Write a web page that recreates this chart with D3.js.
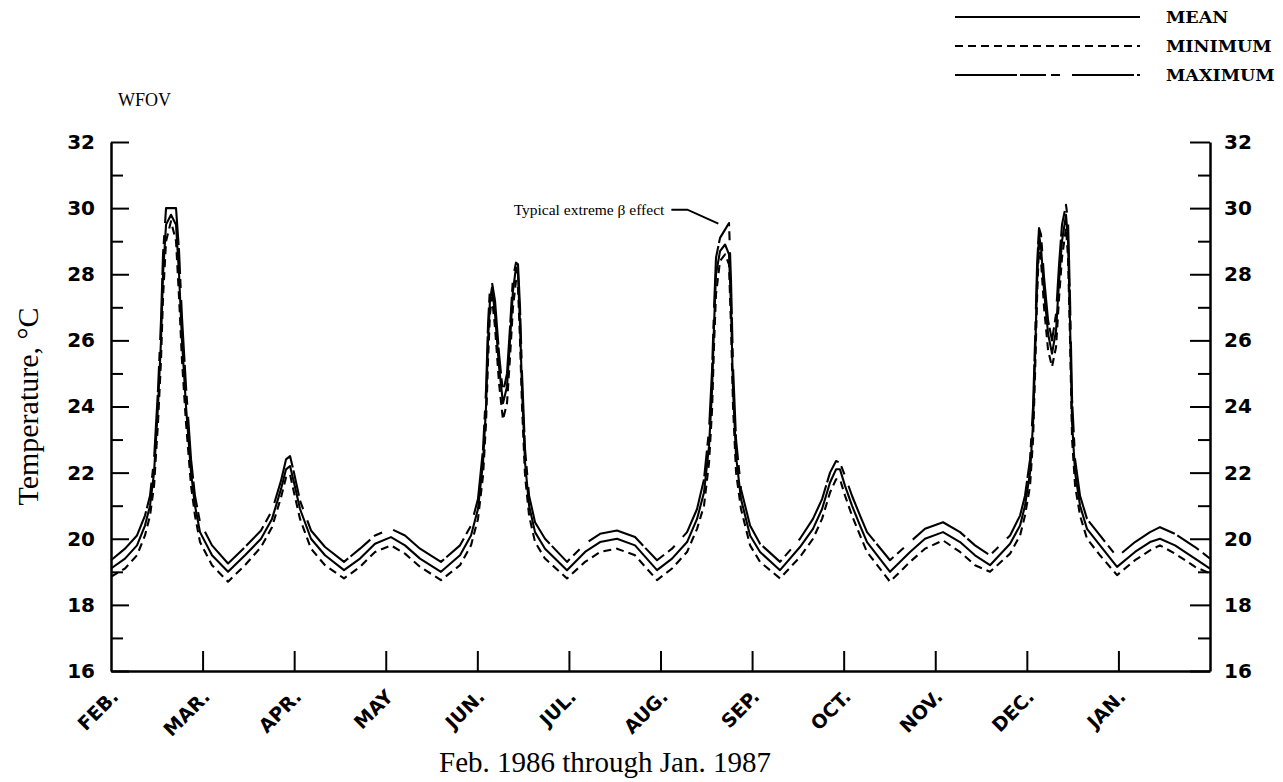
<!DOCTYPE html>
<html><head><meta charset="utf-8">
<script src="https://cdn.jsdelivr.net/npm/d3@7"></script>
<style>body{margin:0;background:#fff}</style>
</head><body>
<svg id="chart" width="1283" height="782"></svg>
<script>
// ---------- data ----------
const monthLabels = ["FEB.","MAR.","APR.","MAY","JUN.","JUL.","AUG.","SEP.","OCT.","NOV.","DEC.","JAN."];
const monthTicks = [0,1,2,3,4,5,6,7,8,9,10,11];
const yMajorTicks = [16,18,20,22,24,26,28,30,32];
const yMinorTicks = [17,19,21,23,25,27,29,31];
const seriesNames = ["MEAN","MINIMUM","MAXIMUM"];

// position in months since 1 Feb 1986
const monthPos = [0.000,0.153,0.284,0.371,0.426,0.470,0.513,0.546,0.568,0.601,0.655,0.710,0.743,0.775,0.819,0.874,0.917,0.972,1.103,1.278,
1.463,1.638,1.758,1.856,1.911,1.955,1.998,2.064,2.184,2.337,2.544,
2.719,2.883,3.057,3.210,3.374,3.603,
3.811,3.931,4.007,4.062,4.095,4.117,4.138,4.160,4.193,4.237,4.280,4.324,4.357,4.389,4.422,4.444,4.466,4.488,4.521,4.565,4.630,4.739,4.979,
5.176,5.340,5.525,5.722,5.962,
6.126,6.290,6.399,6.475,6.530,6.563,6.585,6.606,6.650,6.705,6.748,6.770,6.792,6.825,6.879,6.978,7.087,7.305,
7.523,7.665,7.764,7.851,7.917,7.960,8.015,8.091,8.179,8.255,8.506,
8.725,8.888,9.085,9.271,9.434,9.598,
9.817,9.926,9.980,10.035,10.068,10.090,10.112,10.133,10.155,10.188,10.232,10.275,10.319,10.352,10.384,10.428,10.450,10.472,10.494,10.527,10.581,10.657,10.799,10.985,
11.181,11.345,11.454,11.618,11.837,12.000];

const meanT = [19.1,19.4,19.8,20.4,21.0,22.0,24.0,26.0,28.0,29.5,29.8,29.5,28.0,26.0,24.0,22.0,21.0,20.2,19.5,19.0,
19.5,20.0,20.6,21.5,22.1,22.2,21.7,20.9,20.0,19.5,19.05,
19.4,19.85,20.05,19.8,19.4,19.0,
19.5,20.1,20.9,22.3,24.0,26.0,27.2,27.6,26.8,25.2,24.1,24.6,26.0,27.5,28.2,28.0,26.5,24.5,22.3,21.0,20.2,19.7,19.05,
19.6,19.9,20.0,19.8,19.05,
19.4,19.9,20.6,21.4,22.8,24.5,26.5,28.0,28.7,28.9,28.6,27.0,24.5,22.5,21.2,20.1,19.6,19.05,
19.75,20.3,20.9,21.7,22.1,22.1,21.6,21.0,20.4,19.9,19.0,
19.6,20.0,20.2,19.9,19.5,19.2,
19.85,20.4,21.0,22.0,23.5,25.5,27.8,29.2,28.8,27.5,26.2,25.6,26.3,27.8,29.0,29.8,29.0,26.5,23.5,22.0,21.0,20.3,19.8,19.15,
19.6,19.9,20.0,19.8,19.4,19.1];

const maxT = [19.35,19.7,20.1,20.7,21.3,22.4,24.5,26.6,28.6,30.0,30.0,30.0,28.7,26.7,24.6,22.4,21.3,20.5,19.8,19.25,
19.75,20.25,20.85,21.75,22.4,22.5,22.0,21.15,20.25,19.75,19.3,
19.7,20.1,20.3,20.1,19.7,19.3,
19.8,20.4,21.2,22.7,24.5,26.5,27.6,27.75,27.2,25.6,24.4,25.0,26.4,27.9,28.35,28.3,27.0,25.0,22.7,21.3,20.5,20.0,19.3,
19.85,20.15,20.25,20.05,19.35,
19.7,20.2,20.9,21.8,23.3,25.1,27.0,28.5,29.1,29.35,29.55,27.8,25.2,23.0,21.5,20.4,19.85,19.3,
20.0,20.6,21.2,22.0,22.35,22.3,21.9,21.3,20.7,20.2,19.35,
19.9,20.3,20.5,20.2,19.8,19.5,
20.1,20.7,21.3,22.4,24.0,26.0,28.3,29.4,29.2,27.9,26.6,26.0,26.8,28.3,29.5,30.1,29.6,27.2,24.2,22.4,21.3,20.6,20.1,19.45,
19.9,20.2,20.35,20.15,19.75,19.4];

const minT = [18.85,19.1,19.5,20.1,20.7,21.6,23.5,25.4,27.3,29.0,29.6,29.0,27.3,25.4,23.5,21.6,20.7,19.9,19.2,18.7,
19.2,19.75,20.35,21.25,21.85,21.95,21.4,20.6,19.7,19.2,18.8,
19.15,19.6,19.8,19.55,19.15,18.75,
19.2,19.8,20.6,21.9,23.5,25.4,26.8,27.3,26.4,24.7,23.6,24.1,25.5,27.0,27.8,27.6,26.0,24.0,21.9,20.7,19.9,19.4,18.8,
19.3,19.6,19.7,19.5,18.75,
19.1,19.6,20.3,21.0,22.3,23.9,25.9,27.4,28.4,28.6,28.3,26.4,24.0,22.0,20.9,19.8,19.3,18.8,
19.45,20.0,20.6,21.4,21.8,21.8,21.3,20.7,20.1,19.6,18.7,
19.3,19.7,19.95,19.6,19.2,19.0,
19.55,20.1,20.7,21.6,23.0,25.0,27.3,28.9,28.4,27.0,25.7,25.2,25.8,27.3,28.5,29.4,28.5,26.0,23.0,21.6,20.7,20.0,19.5,18.9,
19.35,19.65,19.8,19.55,19.15,18.95];

const annotation = {text: "Typical extreme \u03B2 effect", month: 6.73, value: 29.5};

// ---------- layout ----------
const W = 1283, H = 782;
const margin = {left: 111, right: 73, top: 142, bottom: 111};
const svg = d3.select("#chart");
const x = d3.scaleLinear().domain([0, 12]).range([margin.left, W - margin.right]);
const y = d3.scaleLinear().domain([16, 32]).range([H - margin.bottom, margin.top]);

const tickFont = "'DejaVu Sans', sans-serif";
const serif = "'Liberation Serif', 'Times New Roman', serif";

function styleAxis(g) {
  g.selectAll("path.domain").attr("stroke", "#000").attr("stroke-width", 2.5);
  g.selectAll(".tick line").attr("stroke", "#000").attr("stroke-width", 2);
  g.selectAll("text").attr("font-family", tickFont).attr("font-weight", "bold")
    .attr("font-size", 20).attr("fill", "#000");
}

// left axis
const gL = svg.append("g").attr("transform", `translate(${margin.left},0)`)
  .call(d3.axisLeft(y).tickValues(yMajorTicks).tickSize(-18).tickSizeOuter(0).tickPadding(16).tickFormat(d3.format("d")));
styleAxis(gL);
const gLm = svg.append("g").attr("transform", `translate(${margin.left},0)`)
  .call(d3.axisLeft(y).tickValues(yMinorTicks).tickSize(-12).tickSizeOuter(0).tickFormat(""));
styleAxis(gLm); gLm.select("path.domain").remove();

// right axis
const gR = svg.append("g").attr("transform", `translate(${W - margin.right},0)`)
  .call(d3.axisRight(y).tickValues(yMajorTicks).tickSize(-20).tickSizeOuter(0).tickPadding(14).tickFormat(d3.format("d")));
styleAxis(gR);
const gRm = svg.append("g").attr("transform", `translate(${W - margin.right},0)`)
  .call(d3.axisRight(y).tickValues(yMinorTicks).tickSize(-12).tickSizeOuter(0).tickFormat(""));
styleAxis(gRm); gRm.select("path.domain").remove();

// bottom axis
const gB = svg.append("g").attr("transform", `translate(0,${H - margin.bottom})`)
  .call(d3.axisBottom(x).tickValues(monthTicks).tickSize(-20).tickSizeOuter(0)
        .tickFormat((d, i) => monthLabels[i]));
styleAxis(gB);
gB.selectAll(".tick line").filter(d => d === 0).remove();
gB.selectAll("text").attr("font-size", 19).attr("text-anchor", "end")
  .attr("x", 0).attr("y", 0).attr("dy", 0)
  .attr("transform", "translate(8,27) rotate(-45)");

// ---------- lines ----------
const line = vals => d3.line().x((d, i) => x(monthPos[i])).y((d) => y(d))(vals);

svg.append("path").attr("d", line(maxT)).attr("fill", "none").attr("stroke", "#000")
  .attr("stroke-width", 2.1).attr("stroke-dasharray", "62,3,26,5,9,12").attr("stroke-linejoin", "round");
svg.append("path").attr("d", line(minT)).attr("fill", "none").attr("stroke", "#000")
  .attr("stroke-width", 2.1).attr("stroke-dasharray", "8,5").attr("stroke-linejoin", "round");
svg.append("path").attr("d", line(meanT)).attr("fill", "none").attr("stroke", "#000")
  .attr("stroke-width", 2.1).attr("stroke-linejoin", "round");

// ---------- annotation ----------
const ax = x(annotation.month), ay = y(annotation.value);
svg.append("path").attr("d", `M${ax - 56},${ay - 15} L${ax - 40},${ay - 15} L${ax - 9},${ay - 1}`)
  .attr("fill", "none").attr("stroke", "#000").attr("stroke-width", 2);
svg.append("text").attr("x", ax - 63).attr("y", ay - 10).attr("text-anchor", "end")
  .attr("font-family", serif).attr("font-size", 15.5).text(annotation.text);

// ---------- titles ----------
svg.append("text").attr("x", 118).attr("y", 106).attr("font-family", serif).attr("font-size", 18).text("WFOV");
svg.append("text").attr("transform", `translate(38,${(margin.top + H - margin.bottom) / 2}) rotate(-90)`)
  .attr("text-anchor", "middle").attr("font-family", serif).attr("font-size", 30).text("Temperature, \u00B0C");
svg.append("text").attr("x", 605).attr("y", 772).attr("text-anchor", "middle")
  .attr("font-family", serif).attr("font-size", 29).text("Feb. 1986 through Jan. 1987");

// ---------- legend ----------
const legendDash = [null, "8,5", "62,3,26,5,9,12"];
const legendY = [17, 46, 75];
const lg = svg.append("g");
seriesNames.forEach((name, i) => {
  lg.append("line").attr("x1", 955).attr("x2", 1140).attr("y1", legendY[i]).attr("y2", legendY[i])
    .attr("stroke", "#000").attr("stroke-width", 2).attr("stroke-dasharray", legendDash[i]);
  lg.append("text").attr("x", 1166).attr("y", legendY[i] + 6)
    .attr("font-family", "'DejaVu Serif', serif").attr("font-weight", "bold").attr("font-size", 17.5)
    .text(name);
});
</script>
</body></html>
